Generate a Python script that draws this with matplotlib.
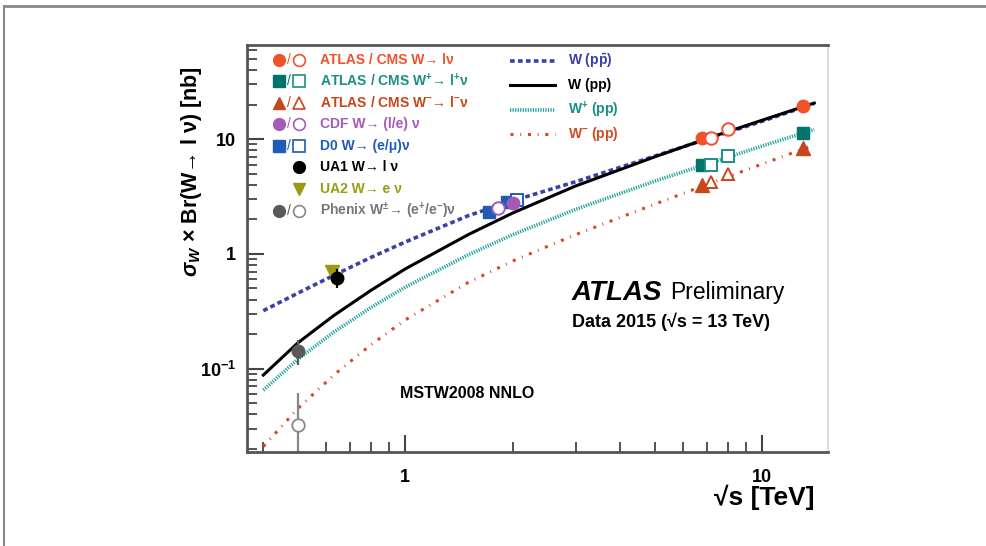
import numpy as np
import matplotlib
matplotlib.use("Agg")
from matplotlib import pyplot as plt
from matplotlib.lines import Line2D

plt.rcParams['font.family'] = ['Liberation Sans', 'DejaVu Sans']
plt.rcParams['font.weight'] = 'bold'
plt.rcParams['mathtext.fontset'] = 'custom'
plt.rcParams['mathtext.rm'] = 'Liberation Sans:bold'
plt.rcParams['mathtext.it'] = 'Liberation Sans:bold:italic'
plt.rcParams['mathtext.bf'] = 'Liberation Sans:bold'

# MSTW2008 NNLO predictions
sqrt_s = [0.4, 0.5, 0.63, 0.8, 1.0, 1.5, 2.0, 3.0, 5.0, 7.0, 10.0, 14.0]
w_ppbar = [0.32, 0.455, 0.65, 0.93, 1.27, 2.15, 2.9, 4.25, 7.1, 10.0, 14.3, 20.4]
w_pp = [0.088, 0.168, 0.29, 0.48, 0.74, 1.47, 2.27, 3.9, 7.0, 10.1, 14.6, 20.6]
wplus_pp = [0.065, 0.121, 0.208, 0.34, 0.514, 0.98, 1.47, 2.44, 4.3, 6.05, 8.7, 12.1]
wminus_pp = [0.021, 0.045, 0.088, 0.161, 0.266, 0.563, 0.867, 1.47, 2.71, 4.02, 6.06, 8.87]

# measurements
lhc_w_x = [6.8, 13.0]
lhc_w_y = [10.2, 19.5]
lhc_w_open_x = [7.2, 8.0]
lhc_w_open_y = [10.3, 12.2]
lhc_wp_x = [6.8, 13.0]
lhc_wp_y = [6.0, 11.2]
lhc_wp_open_x = [7.2, 8.0]
lhc_wp_open_y = [6.0, 7.1]
lhc_wm_x = [6.8, 13.0]
lhc_wm_y = [4.0, 8.4]
lhc_wm_open_x = [7.2, 8.0]
lhc_wm_open_y = [4.2, 5.0]
cdf_x, cdf_y = [2.0], [2.75]
cdf_open_x, cdf_open_y = [1.82], [2.5]
d0_x, d0_y = [1.72, 1.93], [2.3, 2.85]
d0_open_x, d0_open_y = [2.05], [2.95]
ua1_x, ua1_y, ua1_err = [0.645], [0.62], [0.12]
ua2_x, ua2_y = [0.625], [0.69]
phx_x, phx_y, phx_err = [0.5], [0.142], [0.035]
phx_open_x, phx_open_y, phx_open_err = [0.5], [0.032], [0.03]

c_atlas = '#f0522c'
c_wp = '#00736a'
c_wp_txt = '#1a8f85'
c_wm = '#c8461c'
c_cdf = '#a35bb8'
c_d0 = '#1e5cb8'
c_ua2 = '#9a9a14'
c_phx = '#5a5a5a'
c_blue = '#3b3fa8'
c_teal = '#22a3a0'
c_red = '#d44a26'

fig = plt.figure(figsize=(9.86, 5.46), dpi=100)
ax = fig.add_axes([247 / 986, 94 / 546, 581 / 986, 407 / 546])

ax.plot(sqrt_s, w_ppbar, color=c_blue, lw=2.6, ls=(0, (1.3, 0.9)))
ax.plot(sqrt_s, w_pp, color='black', lw=2.2)
ax.plot(sqrt_s, wplus_pp, color=c_teal, lw=2.6, ls=(0, (0.35, 0.35)))
ax.plot(sqrt_s, wminus_pp, color=c_red, lw=2.2, ls=(0, (1.0, 2.2, 0.3, 2.2)))

ms = 9
ax.plot(lhc_w_x, lhc_w_y, 'o', color=c_atlas, ms=ms)
ax.plot(lhc_w_open_x, lhc_w_open_y, 'o', mfc='white', mec=c_atlas, mew=1.4, ms=ms)
ax.plot(lhc_wp_x, lhc_wp_y, 's', color=c_wp, ms=ms)
ax.plot(lhc_wp_open_x, lhc_wp_open_y, 's', mfc='white', mec=c_wp_txt, mew=1.4, ms=ms)
ax.plot(lhc_wm_x, lhc_wm_y, '^', color=c_wm, ms=ms + 1)
ax.plot(lhc_wm_open_x, lhc_wm_open_y, '^', mfc='white', mec=c_wm, mew=1.4, ms=ms)
ax.plot(d0_x, d0_y, 's', color=c_d0, ms=ms)
ax.plot(d0_open_x, d0_open_y, 's', mfc='white', mec=c_d0, mew=1.4, ms=ms)
ax.plot(cdf_open_x, cdf_open_y, 'o', mfc='white', mec=c_cdf, mew=1.4, ms=ms)
ax.plot(cdf_x, cdf_y, 'o', color=c_cdf, ms=ms)
ax.plot(ua2_x, ua2_y, 'v', color=c_ua2, ms=ms + 1)
ax.errorbar(ua1_x, ua1_y, yerr=ua1_err, fmt='o', color='black', ms=ms, elinewidth=1.6)
ax.errorbar(phx_x, phx_y, yerr=phx_err, fmt='o', color=c_phx, ms=ms, elinewidth=1.6)
ax.errorbar(phx_open_x, phx_open_y, yerr=phx_open_err, fmt='o', color='#888888',
            mfc='white', mec='#888888', mew=1.3, ms=ms, elinewidth=1.6)

ax.set_xscale('log')
ax.set_yscale('log')
ax.set_xlim(0.36, 15.3)
ax.set_ylim(0.0188, 66)

ax.set_xticks([1, 10])
ax.set_xticklabels(['1', '10'])
ax.set_yticks([0.1, 1, 10])
ax.set_yticklabels(['$10^{-1}$', '1', '10'])
ax.tick_params(which='major', direction='in', length=12, width=1.5, color='#444444',
               labelsize=13, pad=8, top=False, right=False)
ax.tick_params(which='minor', direction='in', length=7, width=1.3, color='#444444',
               top=False, right=False)
ax.tick_params(axis='x', which='major', pad=12)
for lab in ax.get_xticklabels() + ax.get_yticklabels():
    lab.set_fontweight('bold')

for side in ['left', 'bottom', 'top']:
    ax.spines[side].set_color('#555555')
    ax.spines[side].set_linewidth(2)
ax.spines['right'].set_color('#dddddd')
ax.spines['right'].set_linewidth(1.5)

fig.text(191 / 986, 1 - 172 / 546, r'$\sigma_{W}$ × Br(W→ l ν) [nb]', rotation=90,
         ha='center', va='center', fontsize=15.5, fontweight='bold')
fig.text(815 / 986, 1 - 497 / 546, '√s [TeV]', ha='right', va='center',
         fontsize=19, fontweight='bold')

# legend, left block
def axpos(px, py):
    return ((px - 247) / 581, (452 - py) / 407)

rows = [
    ('o', c_atlas, c_atlas, True, 'ATLAS / CMS W→ lν', c_atlas),
    ('s', c_wp, c_wp_txt, True, r'ATLAS / CMS W$^{+}$→ l$^{+}$ν', c_wp_txt),
    ('^', c_wm, c_wm, True, r'ATLAS / CMS W$^{-}$→ l$^{-}$ν', c_wm),
    ('o', c_cdf, c_cdf, True, 'CDF W→ (l/e) ν', c_cdf),
    ('s', c_d0, c_d0, True, 'D0 W→ (e/μ)ν', c_d0),
    ('o', 'black', 'black', False, 'UA1 W→ l ν', 'black'),
    ('v', c_ua2, c_ua2, False, 'UA2 W→ e ν', c_ua2),
    ('o', c_phx, '#888888', True, r'Phenix W$^{\pm}$→ (e$^{+}$/e$^{-}$)ν', '#777777'),
]
row_y = [60, 81, 103, 124, 146, 167, 189, 211]
lms = 8.5
for (mk, cf, co, has_open, label, tc), py in zip(rows, row_y):
    if has_open:
        x0, y0 = axpos(279, py)
        ax.plot([x0], [y0], mk, color=cf, ms=lms, transform=ax.transAxes, clip_on=False)
        xs, ys = axpos(289, py)
        ax.text(xs, ys, '/', color=cf, fontsize=10, fontweight='normal', ha='center',
                va='center', transform=ax.transAxes)
        x1, y1 = axpos(299, py)
        ax.plot([x1], [y1], mk, mfc='white', mec=co, mew=1.2, ms=lms,
                transform=ax.transAxes, clip_on=False)
    else:
        x1, y1 = axpos(299, py)
        ax.plot([x1], [y1], mk, color=cf, ms=lms, transform=ax.transAxes, clip_on=False)
    xt, yt = axpos(320, py)
    ax.text(xt, yt, label, color=tc, fontsize=10, fontweight='bold', ha='left',
            va='center', transform=ax.transAxes)

# legend, right block
lines = [
    (c_blue, 2.6, (0, (1.3, 0.9)), r'W (p$\bar{\mathrm{p}}$)', c_blue),
    ('black', 2.2, '-', 'W (pp)', 'black'),
    (c_teal, 2.6, (0, (0.35, 0.35)), r'W$^{+}$ (pp)', c_wp_txt),
    (c_red, 2.2, (0, (1.0, 2.2, 0.3, 2.2)), r'W$^{-}$ (pp)', c_red),
]
line_y = [61, 85, 110, 134]
for (col, lw, ls, label, tcol), py in zip(lines, line_y):
    xa, ya = axpos(510, py)
    xb, _ = axpos(555, py)
    ax.plot([xa, xb], [ya, ya], color=col, lw=lw, ls=ls, transform=ax.transAxes)
    xt, _ = axpos(568, py)
    ax.text(xt, ya, label, color=tcol, fontsize=10, fontweight='bold', ha='left',
            va='center', transform=ax.transAxes)

xa, ya = axpos(572, 293)
ax.text(xa, ya, 'ATLAS', fontsize=20, fontweight='bold', style='italic',
        ha='left', va='center', transform=ax.transAxes)
xp, _ = axpos(670, 293)
ax.text(xp, ya, 'Preliminary', fontsize=16.5, fontweight='normal', ha='left',
        va='center', transform=ax.transAxes)
xd, yd = axpos(572, 322)
ax.text(xd, yd, 'Data 2015 (√s = 13 TeV)', fontsize=13, fontweight='bold', ha='left',
        va='center', transform=ax.transAxes)
xm, ym = axpos(400, 393)
ax.text(xm, ym, 'MSTW2008 NNLO', fontsize=11.5, fontweight='bold', ha='left',
        va='center', transform=ax.transAxes)

# outer frame lines of the picture
fig.add_artist(Line2D([4 / 986, 985 / 986], [1 - 6 / 546, 1 - 6 / 546], color='#888888', lw=2))
fig.add_artist(Line2D([4 / 986, 4 / 986], [0, 1 - 6 / 546], color='#888888', lw=1.5))

fig.savefig('out.png', dpi=100)
